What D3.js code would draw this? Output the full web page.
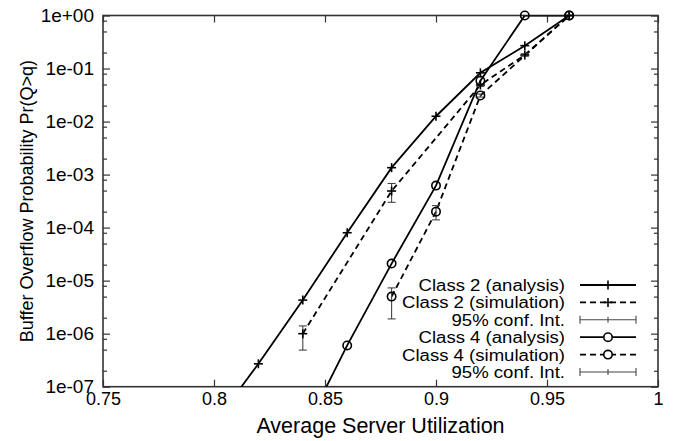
<!DOCTYPE html>
<html>
<head>
<meta charset="utf-8">
<script src="https://cdn.jsdelivr.net/npm/d3@7"></script>
<style>
  body { margin: 0; background: #fff; }
  svg { display: block; }
  text { font-family: "Liberation Sans", Arial, sans-serif; fill: #000; }
</style>
</head>
<body>
<div id="chart"></div>
<script>
// utilisation values (x) and probabilities
var xTicks = [0.75, 0.8, 0.85, 0.9, 0.95, 1];
var yTicks = [1e-7, 1e-6, 1e-5, 1e-4, 1e-3, 1e-2, 1e-1, 1];

var class2AnaX = [0.80, 0.82, 0.84, 0.86, 0.88, 0.90, 0.92, 0.94, 0.96];
var class2AnaY = [2e-8, 2.7e-7, 4.3e-6, 8e-5, 1.35e-3, 1.26e-2, 8.3e-2, 2.7e-1, 1];

var class2SimX  = [0.84, 0.88, 0.92, 0.94, 0.96];
var class2SimY  = [1e-6, 4.9e-4, 4.9e-2, 1.8e-1, 1];
var class2SimLo = [4.9e-7, 3.0e-4, 4.6e-2, 1.7e-1, 1];
var class2SimHi = [1.4e-6, 6.8e-4, 5.2e-2, 1.9e-1, 1];

var class4AnaX = [0.84, 0.86, 0.88, 0.90, 0.92, 0.94, 0.96];
var class4AnaY = [1.3e-8, 6e-7, 2.1e-5, 6.2e-4, 5.9e-2, 1, 1];

var class4SimX  = [0.88, 0.90, 0.92, 0.96];
var class4SimY  = [5e-6, 2e-4, 3.1e-2, 1];
var class4SimLo = [1.9e-6, 1.4e-4, 2.9e-2, 1];
var class4SimHi = [7.3e-6, 2.6e-4, 3.3e-2, 1];

var legendLabels = ["Class 2 (analysis)", "Class 2 (simulation)", "95% conf. Int.",
                    "Class 4 (analysis)", "Class 4 (simulation)", "95% conf. Int."];

var W = 682, H = 441;
var pL = 103, pR = 658, pT = 15.5, pB = 386.7;

var svg = d3.select("#chart").append("svg")
    .attr("width", W).attr("height", H);

var x = d3.scaleLinear().domain([0.75, 1]).range([pL, pR]);
var y = d3.scaleLog().domain([1e-7, 1]).range([pB, pT]);

svg.append("clipPath").attr("id", "clip")
  .append("rect").attr("x", pL).attr("y", pT)
  .attr("width", pR - pL).attr("height", pB - pT);

var axisCol = "#333";

function fmtY(d) {
  var e = Math.round(Math.log10(d));
  return "1e" + (e >= 0 ? "+" : "-") + String(Math.abs(e)).padStart(2, "0");
}
function fmtX(d) { return String(+d.toFixed(2)); }

// minor y ticks at 2, 5, 8 per decade
var minorY = [];
for (var e = -7; e < 0; e++) [2, 5, 8].forEach(function(m){ minorY.push(m * Math.pow(10, e)); });

function styleAxis(g) {
  g.select(".domain").remove();
  g.selectAll("line").attr("stroke", axisCol).attr("stroke-width", 1.2);
}
function styleText(size) {
  return function(g) {
    g.selectAll("text").attr("font-size", size).attr("fill", "#000")
      .attr("font-family", "Liberation Sans, Arial, sans-serif");
  };
}

// bottom axis
svg.append("g").attr("transform", "translate(0," + pB + ")")
  .call(d3.axisBottom(x).tickValues(xTicks).tickFormat(fmtX).tickSizeInner(-7).tickSizeOuter(0).tickPadding(6))
  .call(styleAxis).call(styleText(18));
// top mirror
svg.append("g").attr("transform", "translate(0," + pT + ")")
  .call(d3.axisTop(x).tickValues(xTicks).tickFormat("").tickSizeInner(-7).tickSizeOuter(0))
  .call(styleAxis);
// left axis
svg.append("g").attr("transform", "translate(" + pL + ",0)")
  .call(d3.axisLeft(y).tickValues(yTicks).tickFormat(fmtY).tickSizeInner(-7).tickSizeOuter(0).tickPadding(9))
  .call(styleAxis).call(styleText(19));
svg.append("g").attr("transform", "translate(" + pL + ",0)")
  .call(d3.axisLeft(y).tickValues(minorY).tickFormat("").tickSizeInner(-4).tickSizeOuter(0))
  .call(styleAxis);
// right mirror
svg.append("g").attr("transform", "translate(" + pR + ",0)")
  .call(d3.axisRight(y).tickValues(yTicks).tickFormat("").tickSizeInner(-7).tickSizeOuter(0))
  .call(styleAxis);
svg.append("g").attr("transform", "translate(" + pR + ",0)")
  .call(d3.axisRight(y).tickValues(minorY).tickFormat("").tickSizeInner(-4).tickSizeOuter(0))
  .call(styleAxis);

// frame
svg.append("rect").attr("x", pL).attr("y", pT)
  .attr("width", pR - pL).attr("height", pB - pT)
  .attr("fill", "none").attr("stroke", axisCol).attr("stroke-width", 1.6);

// axis titles
svg.append("text").attr("x", (pL + pR) / 2).attr("y", 433)
  .attr("text-anchor", "middle").attr("font-size", 21.5)
  .text("Average Server Utilization");
svg.append("text").attr("transform", "translate(33," + ((pT + pB) / 2) + ") rotate(-90)")
  .attr("text-anchor", "middle").attr("font-size", 18)
  .text("Buffer Overflow Probability Pr(Q>q)");

function zip(xs, ys) { return xs.map(function(v, i){ return [v, ys[i]]; }); }

var line = d3.line().x(function(d){ return x(d[0]); }).y(function(d){ return y(d[1]); });

var plot = svg.append("g").attr("clip-path", "url(#clip)");

var series = [
  { pts: zip(class2AnaX, class2AnaY), dash: null, mark: "plus" },
  { pts: zip(class2SimX, class2SimY), dash: "6,4", mark: "plus" },
  { pts: zip(class4AnaX, class4AnaY), dash: null, mark: "circle" },
  { pts: zip(class4SimX, class4SimY), dash: "6,4", mark: "circle" }
];

series.forEach(function(s){
  plot.append("path").datum(s.pts)
    .attr("d", line).attr("fill", "none")
    .attr("stroke", "#000").attr("stroke-width", 1.8)
    .attr("stroke-dasharray", s.dash);
});

// error bars
function errBars(xs, lo, hi) {
  var g = svg.append("g").attr("stroke", "#444").attr("stroke-width", 1.1);
  xs.forEach(function(v, i){
    if (lo[i] === hi[i]) return;
    var cx = x(v), y1 = y(lo[i]), y2 = y(hi[i]);
    g.append("line").attr("x1", cx).attr("x2", cx).attr("y1", y1).attr("y2", y2);
    g.append("line").attr("x1", cx - 4).attr("x2", cx + 4).attr("y1", y1).attr("y2", y1);
    g.append("line").attr("x1", cx - 4).attr("x2", cx + 4).attr("y1", y2).attr("y2", y2);
  });
}
errBars(class2SimX, class2SimLo, class2SimHi);
errBars(class4SimX, class4SimLo, class4SimHi);

function drawMark(g, type, cx, cy) {
  if (type === "plus") {
    g.append("line").attr("x1", cx - 4.5).attr("x2", cx + 4.5).attr("y1", cy).attr("y2", cy);
    g.append("line").attr("x1", cx).attr("x2", cx).attr("y1", cy - 4.5).attr("y2", cy + 4.5);
  } else {
    g.append("circle").attr("cx", cx).attr("cy", cy).attr("r", 4.2).attr("fill", "none");
  }
}

series.forEach(function(s){
  var g = svg.append("g").attr("stroke", "#000").attr("stroke-width", 1.6);
  s.pts.filter(function(p){ return p[1] >= 1e-7; }).forEach(function(p){
    drawMark(g, s.mark, x(p[0]), y(p[1]));
  });
});

// legend
var lgX = 565, lgY0 = 285, lgStep = 17.4, s0 = 580, s1 = 636;
var legendKinds = [
  { dash: null, mark: "plus", err: false },
  { dash: "6,4", mark: "plus", err: false },
  { dash: null, mark: null, err: true },
  { dash: null, mark: "circle", err: false },
  { dash: "6,4", mark: "circle", err: false },
  { dash: null, mark: null, err: true }
];
var lg = svg.append("g");
legendLabels.forEach(function(lab, i){
  var yy = lgY0 + i * lgStep, k = legendKinds[i];
  var t = lg.append("text").attr("x", lgX).attr("y", yy + 6).attr("text-anchor", "end")
    .attr("font-size", 16).text(lab);
  // the reference glyphs are a little wider than they are tall
  var w = t.node().getComputedTextLength();
  t.attr("textLength", w * 1.16).attr("lengthAdjust", "spacingAndGlyphs");
  var gg = lg.append("g").attr("stroke", k.err ? "#444" : "#000")
    .attr("stroke-width", k.err ? 1.1 : 1.8);
  gg.append("line").attr("x1", s0).attr("x2", s1).attr("y1", yy).attr("y2", yy)
    .attr("stroke-dasharray", k.dash);
  if (k.err) {
    [s0, (s0 + s1) / 2, s1].forEach(function(px, j){
      var h = j === 1 ? 3 : 4;
      gg.append("line").attr("x1", px).attr("x2", px).attr("y1", yy - h).attr("y2", yy + h);
    });
  } else {
    var mg = lg.append("g").attr("stroke", "#000").attr("stroke-width", 1.6);
    drawMark(mg, k.mark, (s0 + s1) / 2, yy);
    if (k.mark === "circle") mg.select("circle").attr("fill", "#fff");
  }
});
</script>
</body>
</html>
